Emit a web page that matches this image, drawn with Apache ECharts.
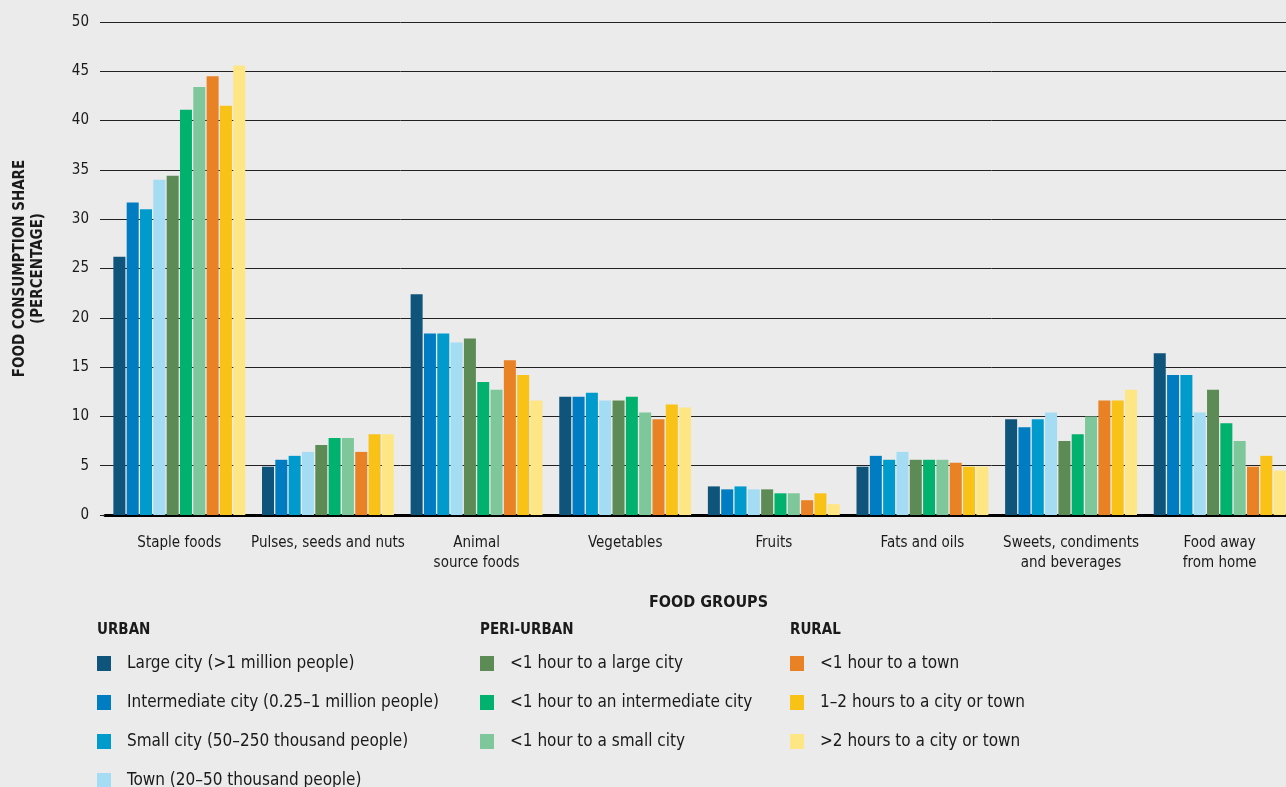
<!DOCTYPE html>
<html>
<head>
<meta charset="utf-8">
<style>
  html, body { margin: 0; padding: 0; background: #ebebeb; }
  #chart { width: 1286px; height: 787px; }
</style>
<script src="https://cdn.jsdelivr.net/npm/echarts@6/dist/echarts.min.js"></script>
</head>
<body>
<div id="chart"></div>
<script>
const categories = [
  'Staple foods', 'Pulses, seeds and nuts', 'Animal\nsource foods', 'Vegetables',
  'Fruits', 'Fats and oils', 'Sweets, condiments\nand beverages', 'Food away\nfrom home'
]

// urban
const largeCity = [26.2, 4.9, 22.4, 12.0, 2.9, 4.9, 9.7, 16.4]
const intermediateCity = [31.7, 5.6, 18.4, 12.0, 2.6, 6.0, 8.9, 14.2]
const smallCity = [31.0, 6.0, 18.4, 12.4, 2.9, 5.6, 9.7, 14.2]
const town = [34.0, 6.4, 17.5, 11.6, 2.6, 6.4, 10.4, 10.4]
// peri-urban
const periLarge = [34.4, 7.1, 17.9, 11.6, 2.6, 5.6, 7.5, 12.7]
const periIntermediate = [41.1, 7.8, 13.5, 12.0, 2.2, 5.6, 8.2, 9.3]
const periSmall = [43.4, 7.8, 12.7, 10.4, 2.2, 5.6, 10.0, 7.5]
// rural
const ruralTown = [44.5, 6.4, 15.7, 9.7, 1.5, 5.3, 11.6, 4.9]
const rural12h = [41.5, 8.2, 14.2, 11.2, 2.2, 4.9, 11.6, 6.0]
const rural2h = [45.6, 8.2, 11.6, 10.9, 1.1, 4.9, 12.7, 4.5]

const seriesNames = [
  'Large city (>1 million people)',
  'Intermediate city (0.25–1 million people)',
  'Small city (50–250 thousand people)',
  'Town (20–50 thousand people)',
  '<1 hour to a large city',
  '<1 hour to an intermediate city',
  '<1 hour to a small city',
  '<1 hour to a town',
  '1–2 hours to a city or town',
  '>2 hours to a city or town'
]
const seriesData = [largeCity, intermediateCity, smallCity, town, periLarge,
  periIntermediate, periSmall, ruralTown, rural12h, rural2h]
const colors = ['#0f547a', '#007cc3', '#009bcd', '#a3dcf3', '#5c8b56',
  '#00b26d', '#7dc79a', '#e88225', '#f9c216', '#ffe685']

const FONT = "'DejaVu Sans Condensed', 'Roboto', sans-serif"

const chart = echarts.init(document.getElementById('chart'))

function legendBlock(names, left) {
  return {
    orient: 'vertical',
    left: left,
    top: 655,
    height: 200,
    padding: 0,
    data: names,
    icon: 'rect',
    itemWidth: 14,
    itemHeight: 15,
    itemGap: 22,
    selectedMode: false,
    textStyle: { fontFamily: FONT, fontSize: 17, color: '#1a1a1a', lineHeight: 15, padding: [0, 0, 0, 11] }
  }
}

const option = {
  backgroundColor: '#ebebeb',
  animation: false,
  grid: { left: 105, width: 1189, top: 22, bottom: 272, outerBoundsMode: 'none' },
  legend: [
    legendBlock(seriesNames.slice(0, 4), 97),
    legendBlock(seriesNames.slice(4, 7), 480),
    legendBlock(seriesNames.slice(7), 790)
  ],
  graphic: [
    { type: 'text', left: 97, top: 623, style: { text: 'URBAN', font: 'bold 15px ' + FONT, fill: '#1a1a1a' } },
    { type: 'text', left: 480, top: 623, style: { text: 'PERI-URBAN', font: 'bold 15px ' + FONT, fill: '#1a1a1a' } },
    { type: 'text', left: 790, top: 623, style: { text: 'RURAL', font: 'bold 15px ' + FONT, fill: '#1a1a1a' } },
    { type: 'text', left: 649, top: 595, style: { text: 'FOOD GROUPS', font: 'bold 16px ' + FONT, fill: '#1a1a1a' } }
  ],
  xAxis: {
    type: 'category',
    data: categories,
    axisLine: { lineStyle: { color: '#000', width: 3 } },
    axisTick: { show: false },
    axisLabel: { interval: 0, fontFamily: FONT, fontSize: 15, color: '#1a1a1a', margin: 18, lineHeight: 20 }
  },
  yAxis: {
    type: 'value',
    min: 0,
    max: 50,
    interval: 5,
    name: 'FOOD CONSUMPTION SHARE\n(PERCENTAGE)',
    nameLocation: 'middle',
    nameGap: 58,
    nameTextStyle: { fontFamily: FONT, fontSize: 15, fontWeight: 'bold', color: '#1a1a1a', lineHeight: 18 },
    axisLine: { show: false },
    axisTick: { show: true, length: 5, lineStyle: { color: '#222' } },
    axisLabel: { fontFamily: FONT, fontSize: 15, color: '#1a1a1a', margin: 16 },
    splitLine: { lineStyle: { color: '#222', width: 1 } }
  },
  series: seriesNames.map((name, i) => ({
    name: name,
    type: 'bar',
    data: seriesData[i],
    barWidth: 12,
    barGap: '11%',
    itemStyle: { color: colors[i] }
  }))
}

chart.setOption(option)
</script>
</body>
</html>
